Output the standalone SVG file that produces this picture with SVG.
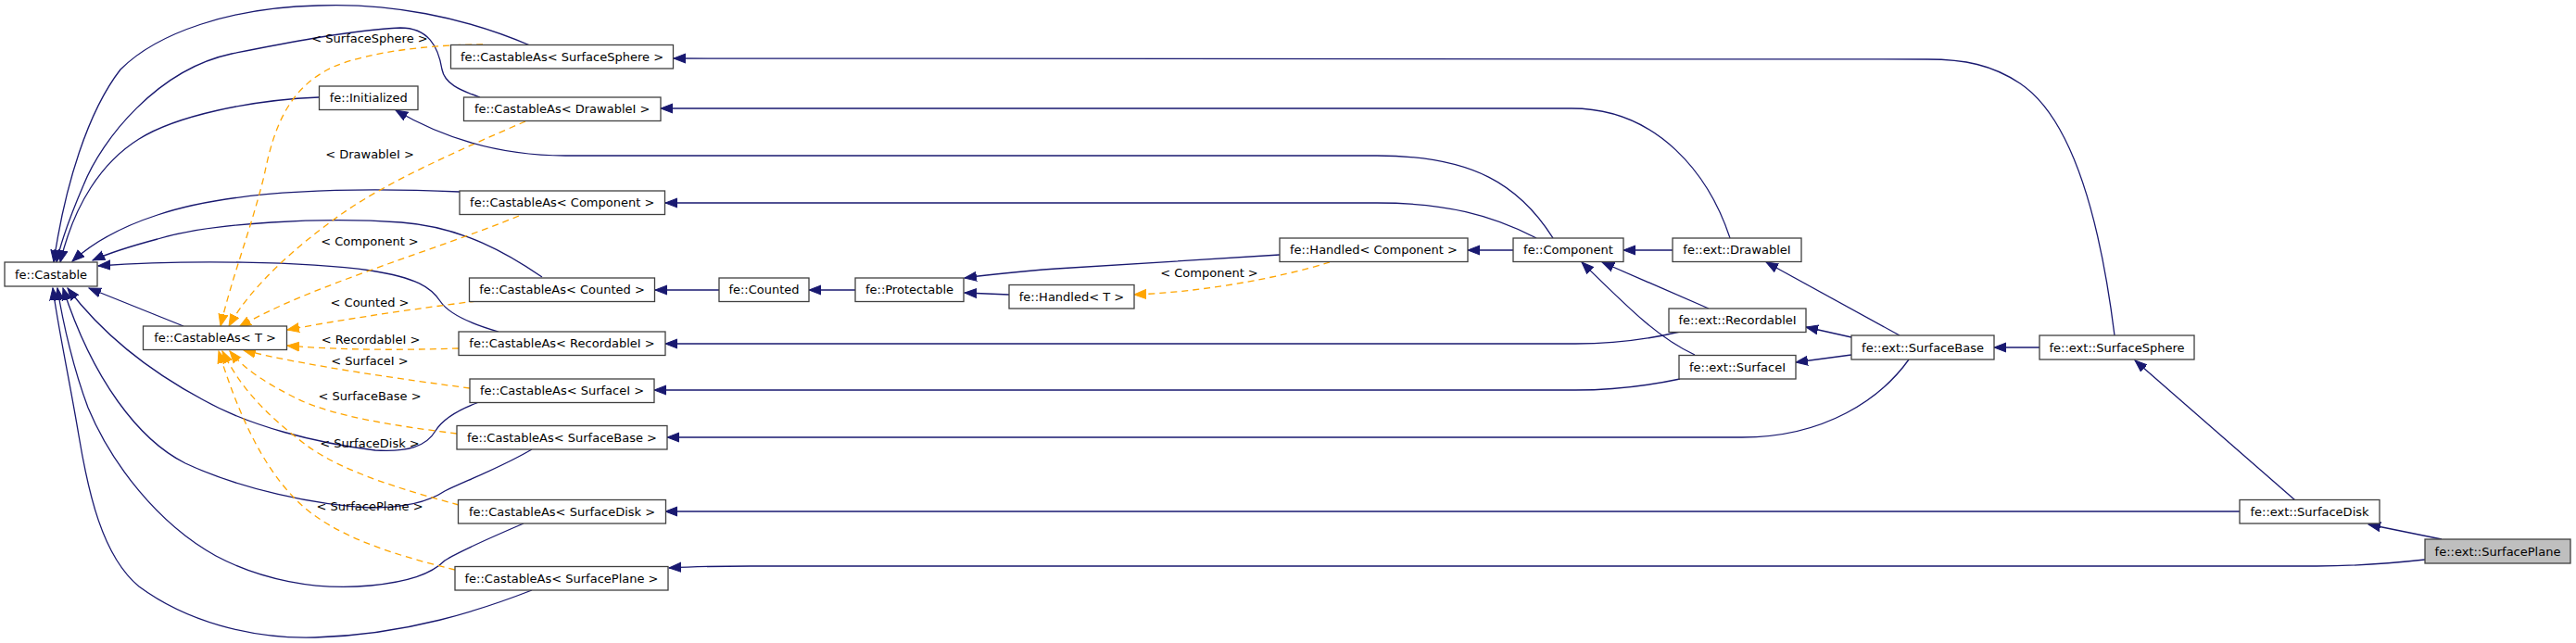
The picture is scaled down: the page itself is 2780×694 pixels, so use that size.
<svg xmlns="http://www.w3.org/2000/svg" width="2780" height="694" viewBox="0 0 2780 694">
<style>
text{font-family:"DejaVu Sans","Liberation Sans",sans-serif;font-size:13px;fill:#000;text-anchor:middle}
.n rect{fill:#fff;stroke:#404040;stroke-width:1.3}
.n.cur rect{fill:#bfbfbf}
.e{fill:none;stroke:#191970;stroke-width:1.3;marker-end:url(#ab)}
.d{fill:none;stroke:#ffa500;stroke-width:1.3;stroke-dasharray:7,5;marker-end:url(#ao)}
</style>
<defs>
<marker id="ab" markerUnits="userSpaceOnUse" markerWidth="15" markerHeight="12" refX="13" refY="6" orient="auto"><path d="M0,1 L13,6 L0,11 z" fill="#191970" stroke="#191970" stroke-width="1"/></marker>
<marker id="ao" markerUnits="userSpaceOnUse" markerWidth="15" markerHeight="12" refX="13" refY="6" orient="auto"><path d="M0,1 L13,6 L0,11 z" fill="#ffa500" stroke="#ffa500" stroke-width="1"/></marker>
</defs>
<rect width="2780" height="694" fill="#fff"/>
<g id="connectors">
<!-- to Castable -->
<path class="e" d="M572,49 C500,18 420,3 343,6 C250,8 170,35 130,75 C95,120 70,200 58,283"/>
<path class="e" d="M518,105 C495,97 480,90 477,75 C473,50 462,30 432,30 C380,32 300,48 250,58 C170,75 110,150 90,200 C75,235 66,260 61,283"/>
<path class="e" d="M344,105 C270,108 190,125 150,150 C110,175 80,220 65,283"/>
<path class="e" d="M496,207 C380,202 250,205 170,232 C130,245 100,262 78,282"/>
<path class="e" d="M585,299 C550,275 500,245 433,240 C350,234 230,240 170,258 C140,266 118,273 100,281"/>
<path class="e" d="M538,358 C510,350 485,340 475,325 C465,310 450,300 400,292 C330,282 200,280 106,287"/>
<path class="e" d="M198,352 L96,311"/>
<path class="e" d="M517,434 C495,442 478,452 470,465 C460,482 440,488 405,486 C340,478 270,460 220,432 C160,400 110,360 73,311"/>
<path class="e" d="M574,485 C540,505 500,520 480,530 C465,540 440,548 400,548 C340,545 260,528 200,500 C150,475 100,410 68,311"/>
<path class="e" d="M565,565 C530,580 495,595 480,605 C465,620 440,628 400,632 C340,638 280,625 233,600 C170,565 120,500 95,440 C80,400 68,350 62,311"/>
<path class="e" d="M574,637 C520,658 440,685 340,688 C270,690 200,670 150,633 C110,600 95,530 85,470 C75,410 62,350 57,311"/>
<!-- template instances to CastableAs<T> -->
<path class="d" d="M521,48 C470,48 400,55 360,72 C310,95 295,140 285,190 C270,250 250,300 238,352"/>
<path class="d" d="M567,131 C500,160 420,195 370,230 C320,265 270,310 247,352"/>
<path class="d" d="M560,233 C470,270 330,310 258,353"/>
<path class="d" d="M514,325 C450,333 380,343 310,356"/>
<path class="d" d="M495,376 C430,378 370,378 310,373"/>
<path class="d" d="M507,419 C440,410 330,395 263,378"/>
<path class="d" d="M493,468 C430,460 360,450 320,430 C290,415 265,400 248,379"/>
<path class="d" d="M495,545 C440,530 370,510 330,480 C290,450 260,420 240,379"/>
<path class="d" d="M491,615 C430,600 360,580 320,540 C280,500 255,440 236,379"/>
<path class="d" d="M1435,283 C1380,300 1300,315 1224,318"/>
<text x="399" y="46">&lt; SurfaceSphere &gt;</text>
<text x="399" y="171">&lt; DrawableI &gt;</text>
<text x="399" y="264.5">&lt; Component &gt;</text>
<text x="399" y="331">&lt; Counted &gt;</text>
<text x="400" y="371">&lt; RecordableI &gt;</text>
<text x="399" y="394">&lt; SurfaceI &gt;</text>
<text x="399" y="432">&lt; SurfaceBase &gt;</text>
<text x="399" y="483">&lt; SurfaceDisk &gt;</text>
<text x="399" y="551">&lt; SurfacePlane &gt;</text>
<text x="1305" y="298.5">&lt; Component &gt;</text>
<!-- right side -->
<path class="e" d="M2282,362 C2268,250 2240,130 2180,90 C2150,70 2120,64 2080,64 L727,63"/>
<path class="e" d="M1867,257 C1845,190 1790,117 1696,117 L713,117"/>
<path class="e" d="M1676,257 C1640,200 1590,168 1486,168 L610,168 C540,168 480,150 427,119"/>
<path class="e" d="M1658,257 C1610,232 1560,219 1486,219 L718,219"/>
<path class="e" d="M776,313 L707,313"/>
<path class="e" d="M923,313 L873,313"/>
<path class="e" d="M1381,275 L1140,290 C1100,293 1070,296 1041,300"/>
<path class="e" d="M1089,318 L1041,316"/>
<path class="e" d="M1633,270 L1584,270"/>
<path class="e" d="M1805,270 L1752,270"/>
<path class="e" d="M1844,333 L1729,283"/>
<path class="e" d="M1829,383 C1790,365 1760,335 1707,283"/>
<path class="e" d="M1813,358 C1780,366 1740,371 1700,371 L718,371"/>
<path class="e" d="M1813,409 C1780,416 1740,421 1700,421 L706,421"/>
<path class="e" d="M2050,362 L1906,283"/>
<path class="e" d="M1998,364 L1949,353"/>
<path class="e" d="M1998,383 L1938,391"/>
<path class="e" d="M2060,388 C2030,430 1970,472 1880,472 L720,472"/>
<path class="e" d="M2201,375 L2152,375"/>
<path class="e" d="M2477,540 L2304,389"/>
<path class="e" d="M2417,552 L718,552"/>
<path class="e" d="M2635,582 L2556,566"/>
<path class="e" d="M2617,604 C2580,608 2540,611 2500,611 L810,611 C770,611 740,612 722,613"/>
</g>
<g id="Castable" class="n"><rect x="5" y="283" width="100" height="26"/><text x="55" y="300.5">fe::Castable</text></g>
<g id="CastableAsT" class="n"><rect x="154.5" y="352" width="155" height="25.5"/><text x="232" y="369">fe::CastableAs&lt; T &gt;</text></g>
<g id="Initialized" class="n"><rect x="344.5" y="93" width="106.5" height="25.5"/><text x="397.7" y="110">fe::Initialized</text></g>
<g id="CastableAsSurfaceSphere" class="n"><rect x="486.5" y="48.5" width="240" height="25.5"/><text x="606.5" y="65.5">fe::CastableAs&lt; SurfaceSphere &gt;</text></g>
<g id="CastableAsDrawableI" class="n"><rect x="500.5" y="105" width="212.5" height="25.5"/><text x="606.7" y="122">fe::CastableAs&lt; DrawableI &gt;</text></g>
<g id="CastableAsComponent" class="n"><rect x="496" y="206" width="221.5" height="25.5"/><text x="606.7" y="223">fe::CastableAs&lt; Component &gt;</text></g>
<g id="CastableAsCounted" class="n"><rect x="506.5" y="300" width="200" height="25.5"/><text x="606.5" y="317">fe::CastableAs&lt; Counted &gt;</text></g>
<g id="CastableAsRecordableI" class="n"><rect x="495" y="358" width="223" height="25.5"/><text x="606.5" y="375">fe::CastableAs&lt; RecordableI &gt;</text></g>
<g id="CastableAsSurfaceI" class="n"><rect x="507" y="409" width="199" height="25.5"/><text x="606.5" y="426">fe::CastableAs&lt; SurfaceI &gt;</text></g>
<g id="CastableAsSurfaceBase" class="n"><rect x="493" y="459.5" width="227" height="25.5"/><text x="606.5" y="476.5">fe::CastableAs&lt; SurfaceBase &gt;</text></g>
<g id="CastableAsSurfaceDisk" class="n"><rect x="494.5" y="539.5" width="224" height="25.5"/><text x="606.5" y="556.5">fe::CastableAs&lt; SurfaceDisk &gt;</text></g>
<g id="CastableAsSurfacePlane" class="n"><rect x="491" y="611.5" width="230" height="25.5"/><text x="606" y="628.5">fe::CastableAs&lt; SurfacePlane &gt;</text></g>
<g id="Counted" class="n"><rect x="776" y="300" width="97" height="25.5"/><text x="824.5" y="317">fe::Counted</text></g>
<g id="Protectable" class="n"><rect x="923" y="300" width="117" height="25.5"/><text x="981.5" y="317">fe::Protectable</text></g>
<g id="HandledT" class="n"><rect x="1089" y="307.5" width="135" height="25.5"/><text x="1156.5" y="324.5">fe::Handled&lt; T &gt;</text></g>
<g id="HandledComponent" class="n"><rect x="1381" y="257" width="203" height="25.5"/><text x="1482.5" y="274">fe::Handled&lt; Component &gt;</text></g>
<g id="Component" class="n"><rect x="1633" y="257" width="119" height="25.5"/><text x="1692.5" y="274">fe::Component</text></g>
<g id="extDrawableI" class="n"><rect x="1805" y="257" width="139" height="25.5"/><text x="1874.5" y="274">fe::ext::DrawableI</text></g>
<g id="extRecordableI" class="n"><rect x="1801" y="333" width="148" height="25.5"/><text x="1875" y="350">fe::ext::RecordableI</text></g>
<g id="extSurfaceI" class="n"><rect x="1812" y="383.5" width="126" height="25.5"/><text x="1875" y="400.5">fe::ext::SurfaceI</text></g>
<g id="extSurfaceBase" class="n"><rect x="1998" y="362" width="154" height="26"/><text x="2075" y="379.5">fe::ext::SurfaceBase</text></g>
<g id="extSurfaceSphere" class="n"><rect x="2201" y="362" width="167" height="26"/><text x="2284.5" y="379.5">fe::ext::SurfaceSphere</text></g>
<g id="extSurfaceDisk" class="n"><rect x="2417" y="539.5" width="151" height="25.5"/><text x="2492.5" y="556.5">fe::ext::SurfaceDisk</text></g>
<g id="extSurfacePlane" class="n cur"><rect x="2617" y="582" width="157" height="26"/><text x="2695.5" y="599.5">fe::ext::SurfacePlane</text></g>
</svg>
